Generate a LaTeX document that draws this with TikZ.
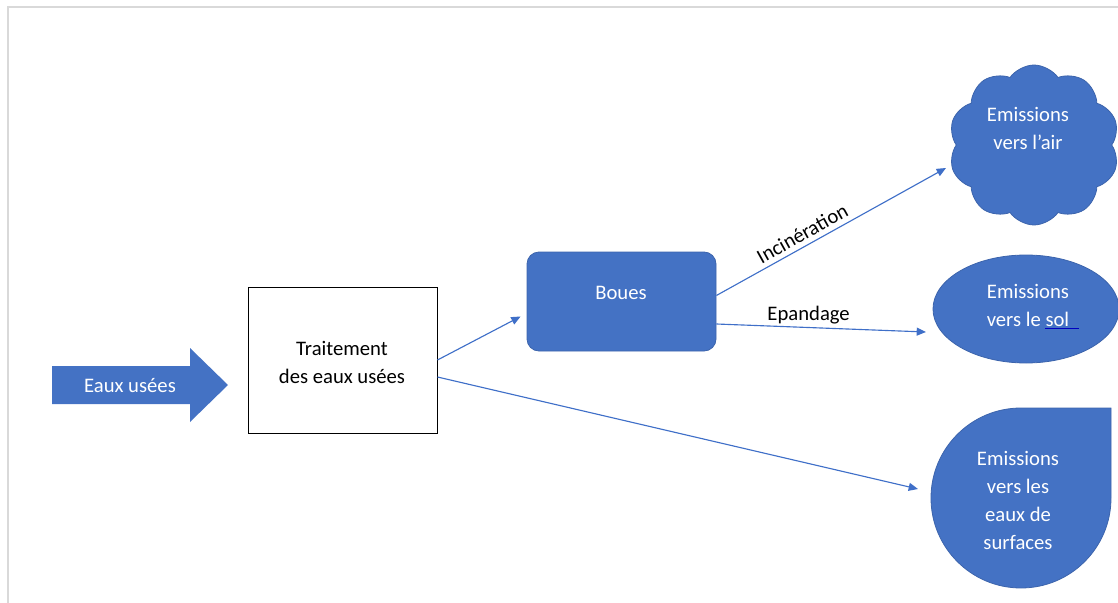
\documentclass[tikz,border=0pt]{standalone}
\usepackage{fontspec}
\setmainfont{Carlito}
\usetikzlibrary{shapes.geometric,shapes.symbols,arrows.meta,calc}
\definecolor{obl}{HTML}{4472C4}
\definecolor{oblline}{HTML}{3F6FC8}
\definecolor{frm}{HTML}{D9D9D9}
\begin{document}
\begin{tikzpicture}[x=0.75pt,y=-0.75pt,
  font=\fontsize{15.5}{21}\selectfont,
  conn/.style={draw=oblline, line width=0.85pt, -{Triangle[length=7pt,width=6pt]}},
  bluefill/.style={fill=obl, draw=obl!88!black, line width=0.6pt},
  wtxt/.style={text=white, align=center, inner sep=0pt},
  lbl/.style={text=black, inner sep=3.5pt}]
\useasboundingbox (0,0) rectangle (1118,603);
% frame
\draw[frm, line width=1.5pt] (8,603) -- (8,7) -- (1118,7);
% input arrow
\fill[obl] (52,366) -- (190,366) -- (190,348) -- (228,385) -- (190,422) -- (190,404) -- (52,404) -- cycle;
\node[wtxt] (eaux) at (130,386) {Eaux usées};
% treatment box
\node[draw=black, line width=0.75pt, fill=white, minimum width=141.75pt, minimum height=109.5pt] (trait) at (342.5,360) {};
\node[align=center, inner sep=0pt] (traittxt) at (342,362) {Traitement\\des eaux usées};
% boues
\node[bluefill, rounded corners=9pt, minimum width=141.75pt, minimum height=74.25pt] (boues) at (621.5,301.5) {};
\node[wtxt] (bouestxt) at (621,293) {Boues};
% cloud
\node[bluefill, cloud, cloud puffs=10, cloud puff arc=110, aspect=1.1, minimum width=128pt, minimum height=120pt, inner sep=0pt] (cloud) at (1034,145) {};
\node[wtxt] (airtxt) at (1028,128) {Emissions\\vers l’air};
% ellipse
\node[bluefill, ellipse, minimum width=139.5pt, minimum height=81pt, inner sep=0pt] (sol) at (1026,309) {};
\node[wtxt] (soltxt) at (1028,305) {Emissions\\vers le sol};
\draw[blue!75!black, line width=0.5pt] (1045,328.5) -- (1079,328.5);
% teardrop
\draw[bluefill] (931,498) arc[start angle=180, end angle=0, radius=90] -- (1111,408) -- (1021,408) arc[start angle=270, end angle=180, radius=90] -- cycle;
\coordinate (dropc) at (1021,498);
\node[wtxt] (drop) at (1018,500) {Emissions\\vers les\\eaux de\\surfaces};
% connectors
\draw[conn] (trait.east) -- ($(boues.west)+(-6,15)$);
\draw[conn] ($(trait.east)+(0,17)$) -- ($(dropc)+(-103,-9)$);
\draw[conn] ($(boues.east)+(0,-6)$) -- node[lbl, sloped, above, pos=0.4] {Incinération} ($(cloud.center)+(-88,23)$);
\draw[conn] ($(boues.east)+(0,22.5)$) -- node[lbl, above, pos=0.44, inner sep=2pt] {Epandage} ($(sol.center)+(-100,23)$);
\end{tikzpicture}
\end{document}
